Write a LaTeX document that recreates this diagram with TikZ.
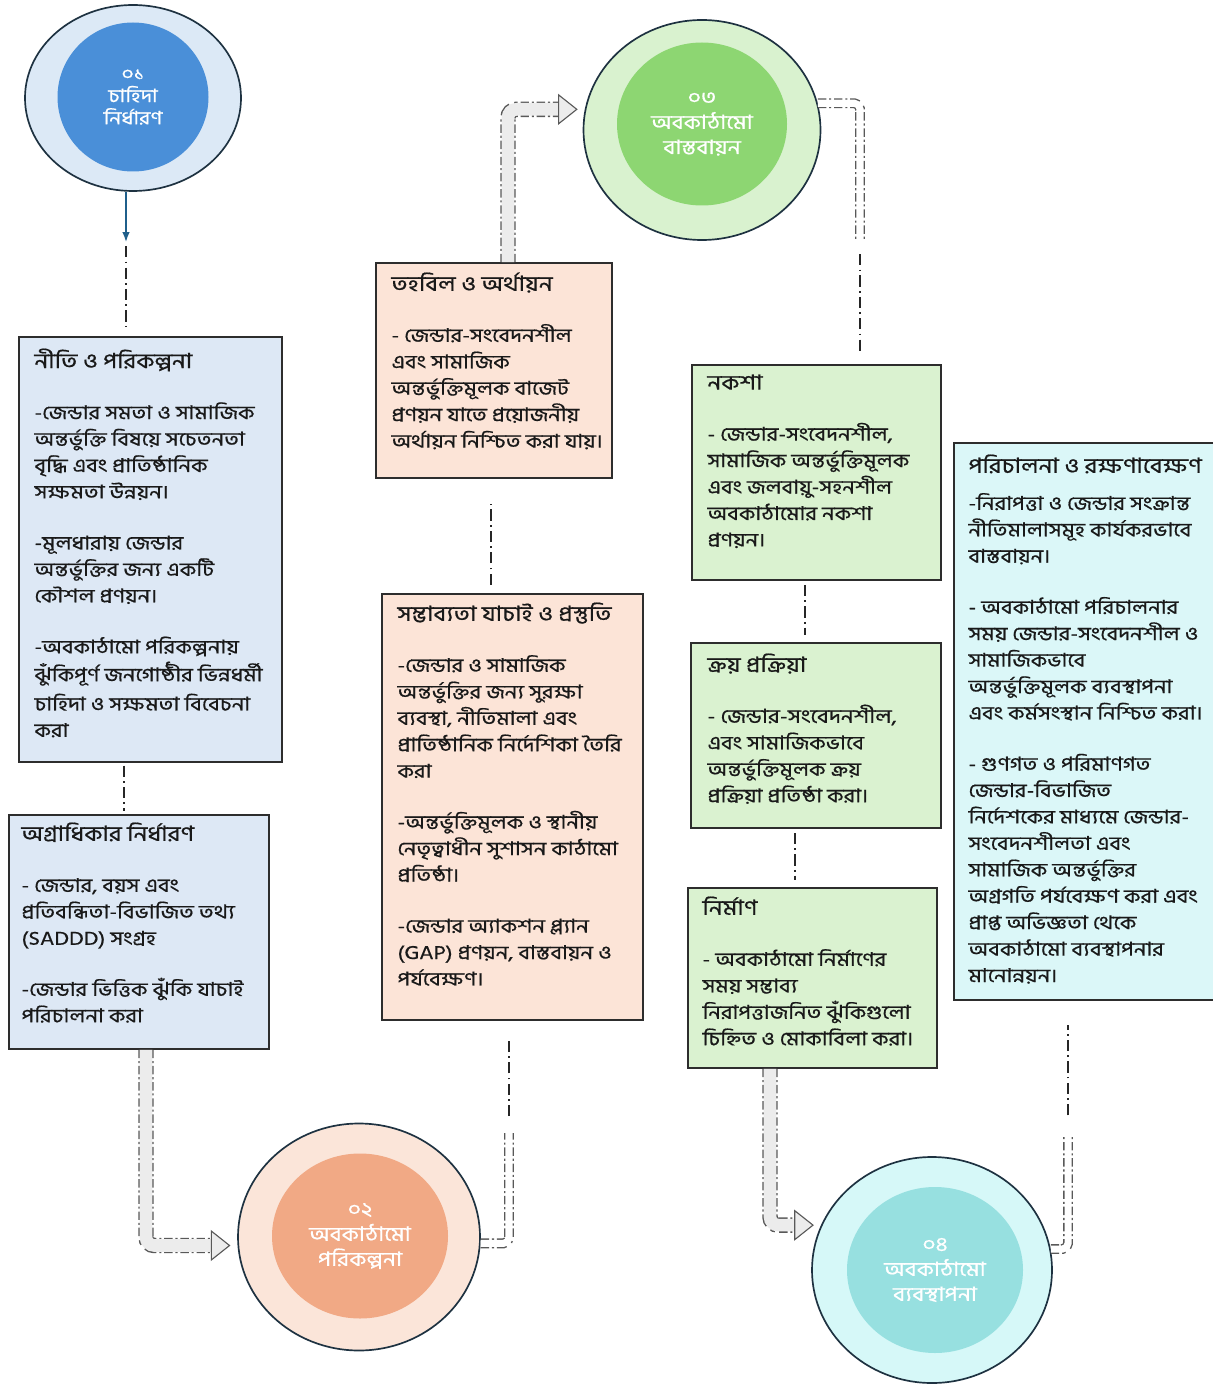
\documentclass[tikz,border=0pt]{standalone}
\usepackage{fontspec}
\newfontfamily\bnfont[Script=Bengali, FakeStretch=1.17, FakeBold=0.7]{Hind Siliguri}
\definecolor{plring}{RGB}{30, 50, 65}
\definecolor{plline}{RGB}{45, 45, 45}
\definecolor{plarrow}{RGB}{31, 95, 139}
\definecolor{plblue}{RGB}{74, 143, 216}
\definecolor{plbluebg}{RGB}{220, 233, 246}
\definecolor{plboxblue}{RGB}{221, 232, 245}
\definecolor{plsalmon}{RGB}{241, 169, 133}
\definecolor{plpeach}{RGB}{251, 229, 217}
\definecolor{plboxpeach}{RGB}{252, 228, 215}
\definecolor{plgreen}{RGB}{141, 214, 114}
\definecolor{plgreenbg}{RGB}{217, 242, 207}
\definecolor{plboxgreen}{RGB}{218, 242, 208}
\definecolor{plteal}{RGB}{151, 224, 224}
\definecolor{pltealbg}{RGB}{214, 248, 248}
\definecolor{plboxteal}{RGB}{219, 247, 248}
\usetikzlibrary{arrows.meta, fit, shapes.geometric}
\newcommand{\pxu}{0.025cm}
\newcommand{\ttl}[1]{{\fontsize{14.8}{18.8}\selectfont #1}}

\begin{document}
\begin{tikzpicture}[
      x=0.025cm, y=-0.025cm,
      every node/.style={font=\bnfont\fontsize{13.5}{18.8}\selectfont},
      box/.style={draw=plline, line width=1.1pt, inner sep=0pt},
      boxtext/.style={anchor=north west, align=left, inner sep=0pt, text=black!90},
      ring/.style={ellipse, draw=plring, line width=1.2pt, inner sep=0pt},
      disc/.style={ellipse, inner sep=0pt, text=white, align=center,
                   font=\bnfont\fontsize{14}{17.8}\selectfont},
      link/.style={draw=black!85, line width=0.9pt,
                   dash pattern=on 8pt off 3pt on 1.2pt off 3pt},
      flow/.style={draw=gray!15, line width=9pt, rounded corners=6pt, shorten >=5pt,
                   -{Triangle[length=14pt, width=22pt, line width=0.8pt,
                     fill=gray!15, color=black!65]},
                   preaction={-, draw=black!65, line width=11pt, shorten >=15pt,
                              dash pattern=on 6pt off 2pt on 1.5pt off 2pt}},
      elbowlink/.style={draw=white, line width=5pt, rounded corners=4pt,
                   preaction={draw=black!65, line width=7pt,
                              dash pattern=on 6pt off 2pt on 1.5pt off 2pt}}
    ]
    \useasboundingbox (0,0) rectangle (1212,1385);

    \node[ring, fill=plbluebg, minimum width=216*\pxu, minimum height=186*\pxu] (c1) at (133,98) {};
    \node[disc, fill=plblue, minimum width=151*\pxu, minimum height=149*\pxu,
          font=\bnfont\fontsize{13}{15.8}\selectfont] (c1in) at (133,97) {০১\\চাহিদা\\নির্ধারণ};
    \node[ring, fill=plpeach, minimum width=242*\pxu, minimum height=227*\pxu] (c2) at (359,1237) {};
    \node[disc, fill=plsalmon, minimum width=176*\pxu, minimum height=165*\pxu] (c2in) at (360,1236) {০২\\অবকাঠামো\\পরিকল্পনা};
    \node[ring, fill=plgreenbg, minimum width=237*\pxu, minimum height=220*\pxu] (c3) at (702,130) {};
    \node[disc, fill=plgreen, minimum width=170*\pxu, minimum height=163*\pxu] (c3in) at (702,124) {০৩\\অবকাঠামো\\বাস্তবায়ন};
    \node[ring, fill=pltealbg, minimum width=240*\pxu, minimum height=226*\pxu] (c4) at (932,1270) {};
    \node[disc, fill=plteal, minimum width=176*\pxu, minimum height=166*\pxu] (c4in) at (935,1270) {০৪\\অবকাঠামো\\ব্যবস্থাপনা};

    \node[box, fill=plboxblue, fit={(19,337) (282,762)}] (b1) {};
    \node[box, fill=plboxblue, fit={(9,815) (269,1049)}] (b2) {};
    \node[box, fill=plboxpeach, fit={(376,263) (612,478)}] (b3) {};
    \node[box, fill=plboxpeach, fit={(382,594) (643,1020)}] (b4) {};
    \node[box, fill=plboxgreen, fit={(692,365) (941,580)}] (b5) {};
    \node[box, fill=plboxgreen, fit={(691,643) (941,828)}] (b6) {};
    \node[box, fill=plboxgreen, fit={(688,888) (937,1068)}] (b7) {};
    \node[box, fill=plboxteal, fit={(954,443) (1216,1000)}] (b8) {};

    \node[boxtext] (t1) at ([shift={(16,12)}]b1.north west) {\ttl{নীতি ও পরিকল্পনা}\\[17.5pt]
      -জেন্ডার সমতা ও সামাজিক\\অন্তর্ভুক্তি বিষয়ে সচেতনতা\\বৃদ্ধি এবং প্রাতিষ্ঠানিক\\সক্ষমতা উন্নয়ন।\\[17.5pt]
      -মূলধারায় জেন্ডার\\অন্তর্ভুক্তির জন্য একটি\\কৌশল প্রণয়ন।\\[17.5pt]
      -অবকাঠামো পরিকল্পনায়\\[1pt]ঝুঁকিপূর্ণ জনগোষ্ঠীর ভিন্নধর্মী\\[2pt]চাহিদা ও সক্ষমতা বিবেচনা\\করা};
    \node[boxtext] (t2) at ([shift={(13,8)}]b2.north west) {\ttl{অগ্রাধিকার নির্ধারণ}\\[17.5pt]
      - জেন্ডার, বয়স এবং\\প্রতিবন্ধিতা-বিভাজিত তথ্য\\(SADDD) সংগ্রহ\\[17.5pt]
      -জেন্ডার ভিত্তিক ঝুঁকি যাচাই\\পরিচালনা করা};
    \node[boxtext] (t3) at ([shift={(16,10)}]b3.north west) {\ttl{তহবিল ও অর্থায়ন}\\[17.5pt]
      - জেন্ডার-সংবেদনশীল\\এবং সামাজিক\\অন্তর্ভুক্তিমূলক বাজেট\\প্রণয়ন যাতে প্রয়োজনীয়\\অর্থায়ন নিশ্চিত করা যায়।};
    \node[boxtext] (t4) at ([shift={(16,9)}]b4.north west) {\ttl{সম্ভাব্যতা যাচাই ও প্রস্তুতি}\\[17.5pt]
      -জেন্ডার ও সামাজিক\\অন্তর্ভুক্তির জন্য সুরক্ষা\\ব্যবস্থা, নীতিমালা এবং\\প্রাতিষ্ঠানিক নির্দেশিকা তৈরি\\করা\\[17.5pt]
      -অন্তর্ভুক্তিমূলক ও স্থানীয়\\নেতৃত্বাধীন সুশাসন কাঠামো\\প্রতিষ্ঠা।\\[17.5pt]
      -জেন্ডার অ্যাকশন প্ল্যান\\(GAP) প্রণয়ন, বাস্তবায়ন ও\\পর্যবেক্ষণ।};
    \node[boxtext] (t5) at ([shift={(16,10)}]b5.north west) {\ttl{নকশা}\\[17.5pt]
      - জেন্ডার-সংবেদনশীল,\\সামাজিক অন্তর্ভুক্তিমূলক\\এবং জলবায়ু-সহনশীল\\অবকাঠামোর নকশা\\প্রণয়ন।};
    \node[boxtext] (t6) at ([shift={(17,11)}]b6.north west) {\ttl{ক্রয় প্রক্রিয়া}\\[17.5pt]
      \fontsize{13.8}{20.6}\selectfont - জেন্ডার-সংবেদনশীল,\\এবং সামাজিকভাবে\\অন্তর্ভুক্তিমূলক ক্রয়\\প্রক্রিয়া প্রতিষ্ঠা করা।};
    \node[boxtext] (t7) at ([shift={(15,9)}]b7.north west) {\ttl{নির্মাণ}\\[17.5pt]
      - অবকাঠামো নির্মাণের\\সময় সম্ভাব্য\\নিরাপত্তাজনিত ঝুঁকিগুলো\\চিহ্নিত ও মোকাবিলা করা।};
    \node[boxtext] (t8) at ([shift={(15,12)}]b8.north west) {\ttl{পরিচালনা ও রক্ষণাবেক্ষণ}\\[7.5pt]
      -নিরাপত্তা ও জেন্ডার সংক্রান্ত\\নীতিমালাসমূহ কার্যকরভাবে\\বাস্তবায়ন।\\[17.5pt]
      - অবকাঠামো পরিচালনার\\সময় জেন্ডার-সংবেদনশীল ও\\সামাজিকভাবে\\অন্তর্ভুক্তিমূলক ব্যবস্থাপনা\\এবং কর্মসংস্থান নিশ্চিত করা।\\[17.5pt]
      - গুণগত ও পরিমাণগত\\জেন্ডার-বিভাজিত\\নির্দেশকের মাধ্যমে জেন্ডার-\\সংবেদনশীলতা এবং\\সামাজিক অন্তর্ভুক্তির\\অগ্রগতি পর্যবেক্ষণ করা এবং\\প্রাপ্ত অভিজ্ঞতা থেকে\\অবকাঠামো ব্যবস্থাপনার\\মানোন্নয়ন।};

    \coordinate (a1) at (126,242);
    \coordinate (lane12) at (124,0);
    \coordinate (lane2) at (146,0);
    \coordinate (k2) at (509,1133);
    \coordinate (lane43) at (491,0);
    \coordinate (lane3) at (508,0);
    \coordinate (k3) at (860,240);
    \coordinate (lane56) at (805,0);
    \coordinate (lane67) at (795,0);
    \coordinate (lane7) at (770,0);
    \coordinate (k4) at (1068,1135);

    \draw[plarrow, line width=1pt, -{Latex[length=7pt]}] (c1.south -| a1) -- (a1);
    \draw[link, shorten <=3pt, shorten >=5pt] (a1) -- (a1 |- b1.north);
    \draw[link, shorten <=2pt, shorten >=2pt] (b1.south -| lane12) -- (b2.north -| lane12);
    \draw[flow] (b2.south -| lane2) |- (c2.184);
    \draw[elbowlink] (c2.357) -| (k2);
    \draw[link, shorten <=12pt, shorten >=14pt] (k2) -- (k2 |- b4.south);
    \draw[link, shorten <=6pt, shorten >=18pt] (b4.north -| lane43) -- (b3.south -| lane43);
    \draw[flow] (b3.north -| lane3) |- (c3.170);
    \draw[elbowlink] (c3.13) -| (k3);
    \draw[link, shorten <=10pt, shorten >=7pt] (k3) -- (k3 |- b5.north);
    \draw[link, shorten <=3pt, shorten >=5pt] (b5.south -| lane56) -- (b6.north -| lane56);
    \draw[link, shorten <=3pt, shorten >=5pt] (b6.south -| lane67) -- (b7.north -| lane67);
    \draw[flow] (b7.south -| lane7) |- (c4.158);
    \draw[elbowlink] (c4.10) -| (k4);
    \draw[link, shorten <=14pt, shorten >=17pt] (k4) -- (k4 |- b8.south);
  \end{tikzpicture}
\end{document}
